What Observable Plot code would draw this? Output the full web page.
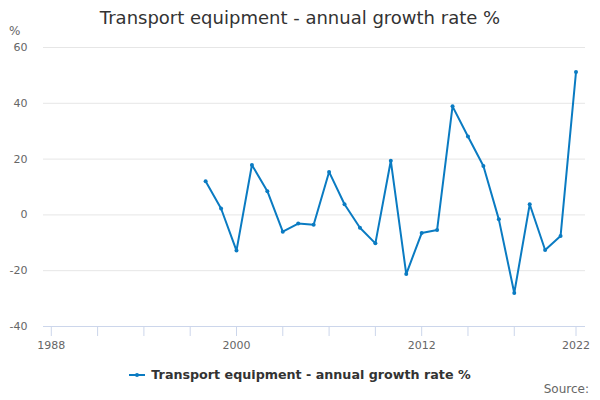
<!DOCTYPE html>
<html>
<head>
<meta charset="utf-8">
<script src="https://cdn.jsdelivr.net/npm/d3@7"></script>
<script src="https://cdn.jsdelivr.net/npm/@observablehq/plot@0.6"></script>
<style>
  html, body { margin: 0; padding: 0; background: #fff; }
  #wrap { position: relative; width: 600px; height: 400px; font-family: "DejaVu Sans", sans-serif; }
  #title { position: absolute; top: 7px; left: 0; width: 600px; text-align: center; font-size: 18px; color: #333; }
  #unit { position: absolute; top: 24px; left: 9px; font-size: 12px; color: #666; }
  #legend { position: absolute; top: 367px; left: 0; width: 600px; text-align: center; font-size: 12.7px; font-weight: bold; color: #333; }
  #legend svg { vertical-align: -1px; margin-right: 6px; }
  #source { position: absolute; top: 382px; right: 11px; font-size: 12px; color: #666; }
  #chart { position: absolute; top: 0; left: 0; }
</style>
</head>
<body>
<div id="wrap">
  <div id="chart"></div>
  <div id="title">Transport equipment - annual growth rate %</div>
  <div id="unit">%</div>
  <div id="legend"><svg width="16" height="10"><line x1="0" y1="5" x2="16" y2="5" stroke="#0a7bc2" stroke-width="2"/><circle cx="8" cy="5" r="2" fill="#0a7bc2"/></svg>Transport equipment - annual growth rate %</div>
  <div id="source">Source:</div>
</div>
<script>
const years = [1998,1999,2000,2001,2002,2003,2004,2005,2006,2007,2008,2009,2010,2011,2012,2013,2014,2015,2016,2017,2018,2019,2020,2021,2022];
const growth = [12.1,2.3,-12.8,17.9,8.5,-6.0,-3.1,-3.5,15.4,3.8,-4.6,-10.2,19.4,-21.2,-6.5,-5.4,38.9,28.1,17.5,-1.6,-28.0,3.8,-12.6,-7.6,51.2];
const yTicks = [-40,-20,0,20,40,60];
const xTicks = [1988,1991,1994,1997,2000,2003,2006,2009,2012,2015,2018,2022];
const xLabels = [1988,2000,2012,2022];

const data = years.map((y, i) => ({year: y, value: growth[i]}));
const color = "#0a7bc2";

const chart = Plot.plot({
  width: 600,
  height: 400,
  marginTop: 47,
  marginBottom: 74,
  marginLeft: 43,
  marginRight: 15,
  style: {fontFamily: "DejaVu Sans, sans-serif", fontSize: "11px", color: "#666", background: "transparent"},
  x: {domain: [1988, 2022], range: [50.8, 575.5]},
  y: {domain: [-40, 60], range: [326, 47]},
  marks: [
    Plot.gridY(yTicks.filter(t => t !== -40), {stroke: "#e6e6e6", strokeOpacity: 1}),
    Plot.axisY({ticks: yTicks, tickSize: 0, tickPadding: 16, label: null, fill: "#666", tickFormat: d => String(d)}),
    Plot.ruleY([-40], {stroke: "#ccd6eb", strokeWidth: 1}),
    Plot.axisX({ticks: xTicks, tickSize: 10, tickPadding: 5, stroke: "#ccd6eb", strokeOpacity: 1, fill: "#666", label: null,
      tickFormat: d => xLabels.includes(d) ? String(d) : ""}),
    Plot.line(data, {x: "year", y: "value", stroke: color, strokeWidth: 2}),
    Plot.dot(data, {x: "year", y: "value", fill: color, r: 2})
  ]
});
document.getElementById("chart").appendChild(chart);
</script>
</body>
</html>
